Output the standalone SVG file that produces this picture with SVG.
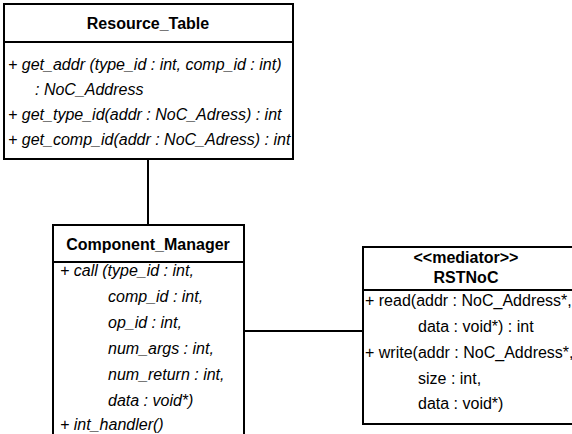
<svg xmlns="http://www.w3.org/2000/svg" width="572" height="434" viewBox="0 0 572 434">
  <style>
    .box { fill: #fff; stroke: #000; stroke-width: 2; }
    .sep { stroke: #000; stroke-width: 2; }
    .link { stroke: #000; stroke-width: 2; fill: none; }
    .title { font-family: "Liberation Sans", Arial, sans-serif; font-size: 16px; font-weight: bold; text-anchor: middle; }
    .op { font-family: "Liberation Sans", Arial, sans-serif; font-size: 16px; font-style: italic; }
    .opn { font-family: "Liberation Sans", Arial, sans-serif; font-size: 16px; }
  </style>
  <rect width="572" height="434" fill="#fff"/>

  <!-- associations -->
  <g id="connectors">
    <line class="link" x1="148" y1="159" x2="148" y2="225"/>
    <line class="link" x1="244" y1="331" x2="363" y2="331"/>
  </g>

  <g id="resource_table">
    <rect class="box" x="4" y="4" width="289" height="155"/>
    <line class="sep" x1="4" y1="42" x2="293" y2="42"/>
    <text class="title" x="148" y="29">Resource_Table</text>
    <text class="op" x="8" y="70">+ get_addr (type_id : int, comp_id : int)</text>
    <text class="op" x="35" y="95">: NoC_Address</text>
    <text class="op" x="8" y="120">+ get_type_id(addr : NoC_Adress) : int</text>
    <text class="op" x="8" y="145">+ get_comp_id(addr : NoC_Adress) : int</text>
  </g>

  <g id="component_manager">
    <rect class="box" x="53" y="225" width="191" height="215"/>
    <line class="sep" x1="53" y1="262" x2="244" y2="262"/>
    <text class="title" x="148" y="250">Component_Manager</text>
    <text class="op" x="60" y="276">+ call (type_id : int,</text>
    <text class="op" x="108" y="302">comp_id : int,</text>
    <text class="op" x="108" y="328">op_id :  int,</text>
    <text class="op" x="108" y="354">num_args : int,</text>
    <text class="op" x="108" y="380">num_return : int,</text>
    <text class="op" x="108" y="406">data : void*)</text>
    <text class="op" x="60" y="430">+ int_handler()</text>
  </g>

  <g id="rstnoc">
    <rect class="box" x="363" y="247" width="215" height="177"/>
    <line class="sep" x1="363" y1="290" x2="578" y2="290"/>
    <text class="title" x="466" y="263">&lt;&lt;mediator&gt;&gt;</text>
    <text class="title" x="466" y="283">RSTNoC</text>
    <text class="opn" x="365" y="306">+ read(addr : NoC_Address*,</text>
    <text class="opn" x="418" y="332">data : void*) : int</text>
    <text class="opn" x="365" y="358">+ write(addr : NoC_Address*,</text>
    <text class="opn" x="418" y="384">size : int,</text>
    <text class="opn" x="418" y="409">data : void*)</text>
  </g>
</svg>
